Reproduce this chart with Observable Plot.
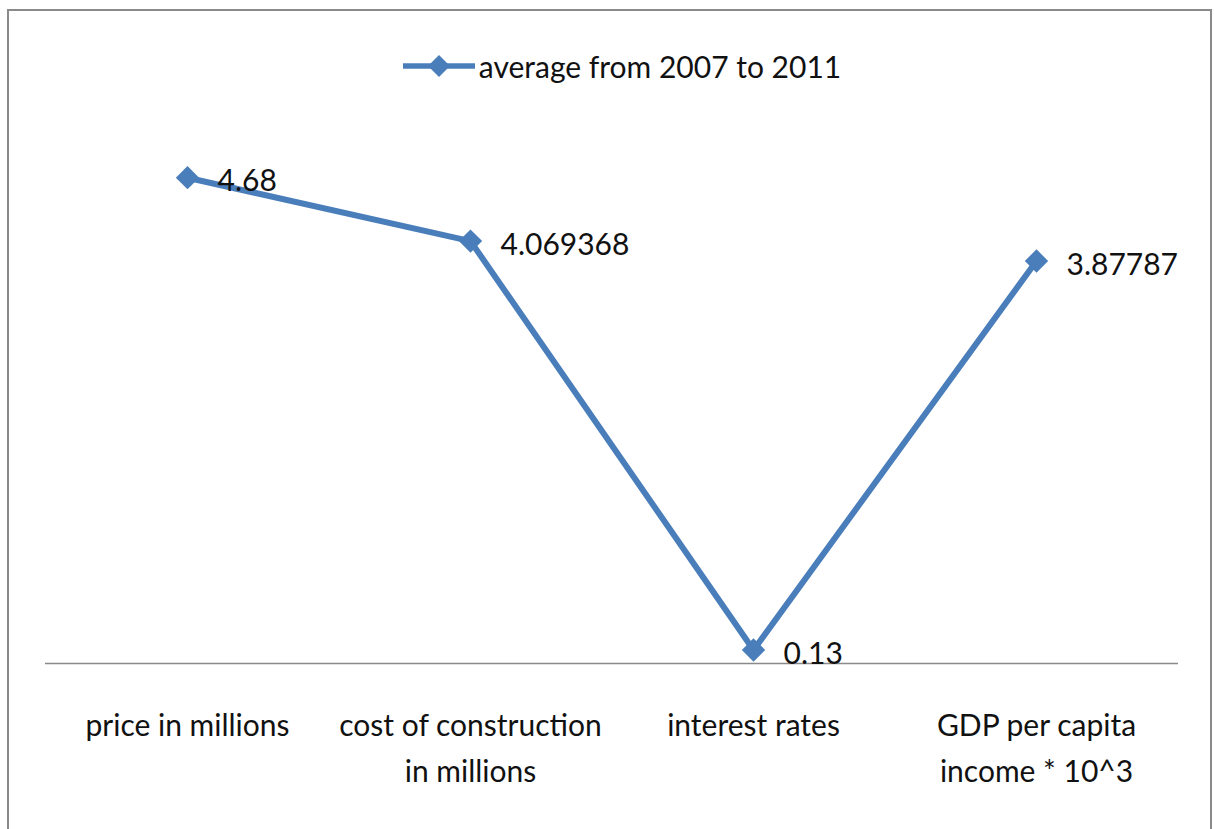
<!DOCTYPE html>
<html>
<head>
<meta charset="utf-8">
<script src="https://cdn.jsdelivr.net/npm/d3@7"></script>
<script src="https://cdn.jsdelivr.net/npm/@observablehq/plot@0.6"></script>
<style>
  html, body { margin: 0; padding: 0; background: #fff; overflow: hidden; }
  body { width: 1214px; height: 829px; position: relative; font-family: "Lato", sans-serif; }
  #frame { position: absolute; left: 7px; top: 9px; width: 1205px; height: 840px; border: 2px solid #8a8a8a; box-sizing: border-box; }
  #legend { position: absolute; left: 15px; top: 48px; width: 1214px; display: flex; justify-content: center; align-items: center; font-size: 30px; color: #111; z-index: 2; }
  #legend span { margin-left: 4px; }
  #chart { position: absolute; left: 0; top: 0; }
</style>
</head>
<body>
<div id="frame"></div>
<div id="legend"></div>
<div id="chart"></div>
<script>
const categories = ["price in millions", "cost of construction\nin millions", "interest rates", "GDP per capita\nincome * 10^3"];
const values = [4.68, 4.069368, 0.13, 3.87787];
const valueLabels = ["4.68", "4.069368", "0.13", "3.87787"];
const seriesName = "average from 2007 to 2011";
const lineColor = "#4a7ebb";

const data = categories.map((c, i) => ({category: c, value: values[i], label: valueLabels[i]}));

// legend
const lg = document.getElementById("legend");
lg.innerHTML = `<svg width="72" height="26" viewBox="0 0 72 26"><line x1="1" y1="13" x2="71" y2="13" stroke="${lineColor}" stroke-width="5.5" stroke-linecap="round"/><path d="M36 2 L47 13 L36 24 L25 13 Z" fill="${lineColor}"/></svg><span></span>`;
lg.querySelector("span").textContent = seriesName;

const chart = Plot.plot({
  width: 1214,
  height: 829,
  marginLeft: 45,
  marginRight: 36,
  marginTop: 144,
  marginBottom: 166,
  style: {fontFamily: "'Lato', sans-serif", fontSize: "30px", color: "#111", background: "transparent", overflow: "visible"},
  x: {type: "point", domain: categories, padding: 0.5},
  y: {domain: [0, 5], axis: null},
  marks: [
    Plot.ruleY([0], {stroke: "#8a8a8a", strokeWidth: 1.5}),
    Plot.axisX({tickSize: 0, tickPadding: 39, lineHeight: 1.55, fontSize: 30, fill: "#111", label: null}),
    Plot.line(data, {x: "category", y: "value", stroke: lineColor, strokeWidth: 6}),
    Plot.dot(data, {x: "category", y: "value", symbol: "diamond2", r: 10.5, fill: lineColor, stroke: null}),
    Plot.text(data, {x: "category", y: "value", text: "label", textAnchor: "start", dx: 30, dy: 4, fontSize: 30, fill: "#111"})
  ]
});
document.getElementById("chart").appendChild(chart);
</script>
</body>
</html>
